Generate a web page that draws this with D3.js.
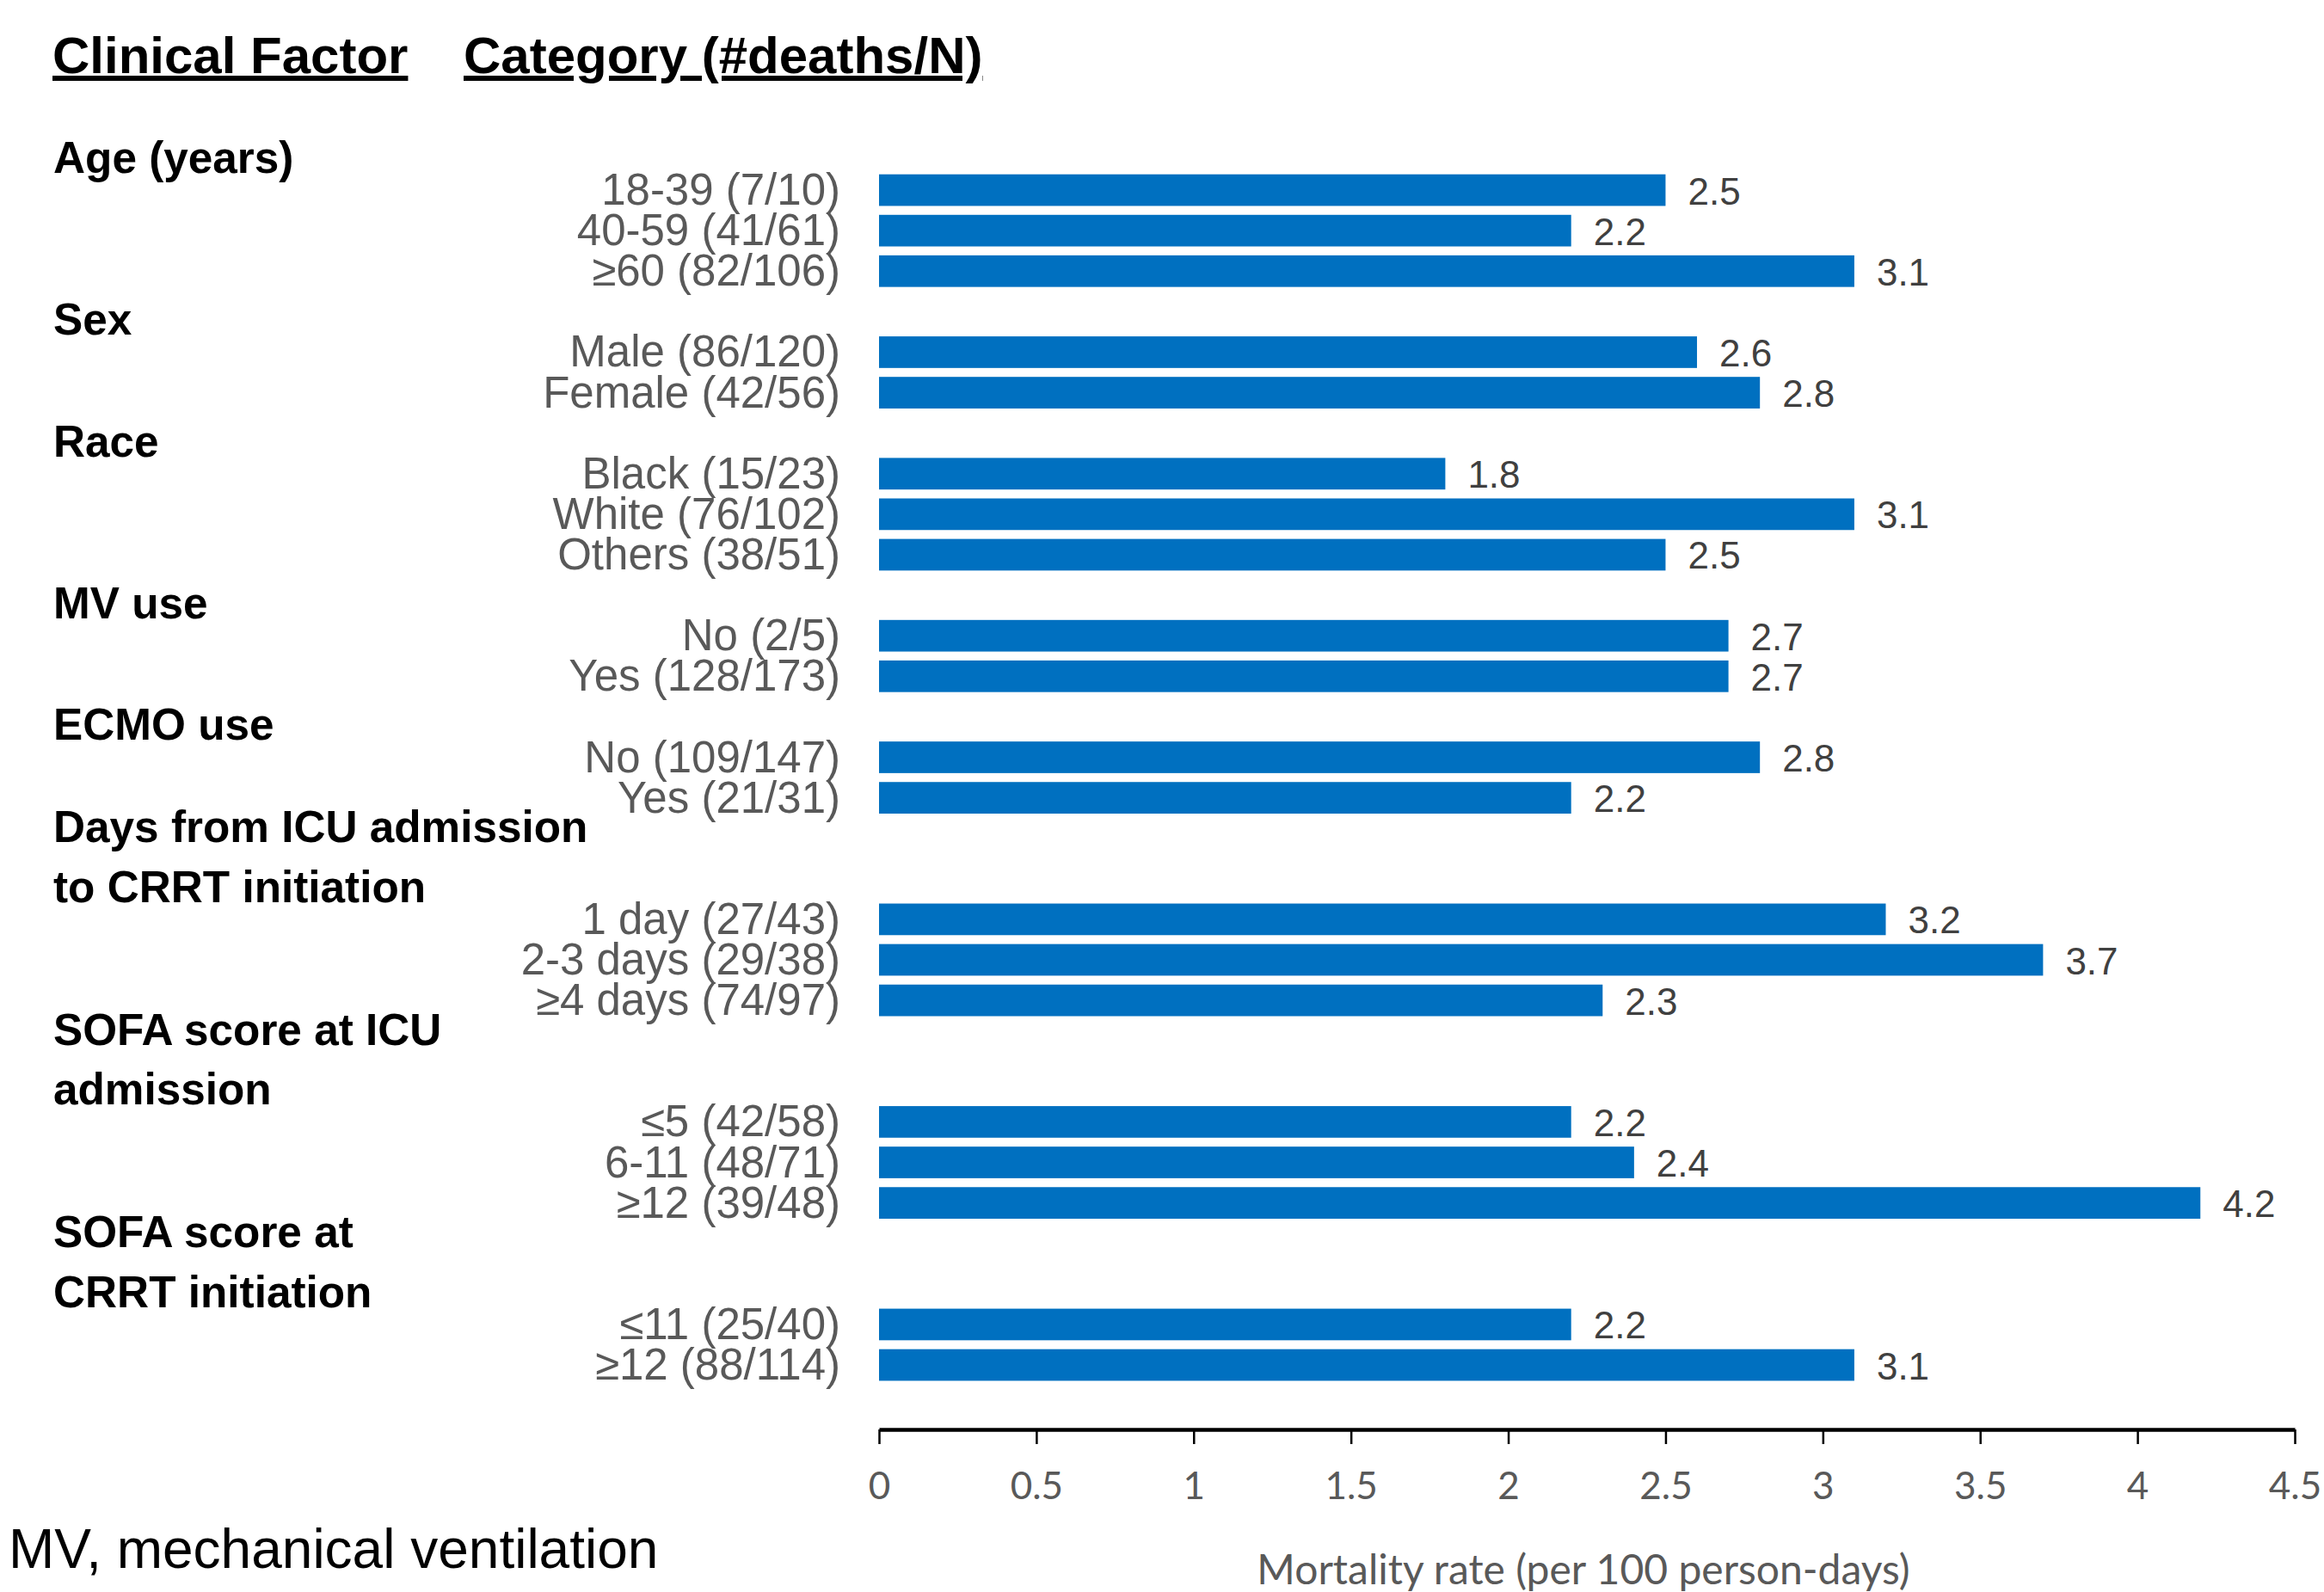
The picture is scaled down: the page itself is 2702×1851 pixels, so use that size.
<!DOCTYPE html>
<html>
<head>
<meta charset="utf-8">
<script src="https://cdn.jsdelivr.net/npm/d3@7"></script>
<style>
  html, body { margin: 0; padding: 0; background: #ffffff; }
  svg { display: block; }
</style>
</head>
<body>
<script>
// ---------- data ----------
const columnHeaders = ["Clinical Factor", "Category (#deaths/N)"];
const groupLabels = [
  ["Age (years)"],
  ["Sex"],
  ["Race"],
  ["MV use"],
  ["ECMO use"],
  ["Days from ICU admission", "to CRRT initiation"],
  ["SOFA score at ICU", "admission"],
  ["SOFA score at", "CRRT initiation"]
];
const categoryLabels = [
  ["18-39 (7/10)", "40-59 (41/61)", "≥60 (82/106)"],
  ["Male (86/120)", "Female (42/56)"],
  ["Black (15/23)", "White (76/102)", "Others (38/51)"],
  ["No (2/5)", "Yes (128/173)"],
  ["No (109/147)", "Yes (21/31)"],
  ["1 day (27/43)", "2-3 days (29/38)", "≥4 days (74/97)"],
  ["≤5 (42/58)", "6-11 (48/71)", "≥12 (39/48)"],
  ["≤11 (25/40)", "≥12 (88/114)"]
];
const rates = [
  [2.5, 2.2, 3.1],
  [2.6, 2.8],
  [1.8, 3.1, 2.5],
  [2.7, 2.7],
  [2.8, 2.2],
  [3.2, 3.7, 2.3],
  [2.2, 2.4, 4.2],
  [2.2, 3.1]
];
const xTicks = [0, 0.5, 1, 1.5, 2, 2.5, 3, 3.5, 4, 4.5];
const xTitle = "Mortality rate (per 100 person-days)";
const footnote = "MV, mechanical ventilation";

// ---------- layout ----------
const W = 2702, H = 1851;
const BAR_COLOR = "#0070C0";

// build slot list: header slots then category slots
const headers = [];
const bars = [];
let slot = 0;
groupLabels.forEach((lines, g) => {
  headers.push({ lines: lines, lastSlot: slot + lines.length - 1 });
  slot += lines.length;
  categoryLabels[g].forEach((lab, i) => {
    bars.push({ label: lab, value: rates[g][i], slot: slot });
    slot += 1;
  });
});
const nSlots = slot;

const svg = d3.select("body").append("svg")
  .attr("width", W).attr("height", H)
  .attr("viewBox", `0 0 ${W} ${H}`);
svg.append("rect").attr("width", W).attr("height", H).attr("fill", "#fff");

const x = d3.scaleLinear().domain([0, 4.5]).range([1022, 2668]);
const y = d3.scaleBand().domain(d3.range(nSlots))
  .range([150.4, 1610.6]).paddingInner(0.22).paddingOuter(0.11);
const yc = s => y(s) + y.bandwidth() / 2;

// column headers
const hdr = svg.append("g")
  .attr("font-family", "'Liberation Sans', Arial, sans-serif")
  .attr("font-weight", "bold").attr("font-size", 60).attr("fill", "#000");
hdr.append("text").attr("x", 61).attr("y", 85)
  .style("text-decoration", "underline").text(columnHeaders[0]);
hdr.append("text").attr("x", 539).attr("y", 85)
  .style("text-decoration", "underline").text(columnHeaders[1]);

// group headers
const gh = svg.append("g")
  .attr("font-family", "'Liberation Sans', Arial, sans-serif")
  .attr("font-weight", "bold").attr("font-size", 51.3).attr("fill", "#000");
headers.forEach(h => {
  const n = h.lines.length;
  h.lines.forEach((ln, i) => {
    gh.append("text")
      .attr("x", 62)
      .attr("y", yc(h.lastSlot) + 27 - (n - 1 - i) * 69.5)
      .text(ln);
  });
});

// bars
svg.append("g").selectAll("rect").data(bars).join("rect")
  .attr("x", x(0))
  .attr("y", d => y(d.slot))
  .attr("width", d => x(d.value) - x(0))
  .attr("height", y.bandwidth())
  .attr("fill", BAR_COLOR);

// category labels
svg.append("g")
  .attr("font-family", "'Liberation Sans', Arial, sans-serif")
  .attr("font-size", 51).attr("fill", "#595959").attr("text-anchor", "end")
  .selectAll("text").data(bars).join("text")
  .attr("x", 977)
  .attr("y", d => yc(d.slot) + 17)
  .text(d => d.label);

// value labels
svg.append("g")
  .attr("font-family", "'Liberation Sans', Arial, sans-serif")
  .attr("font-size", 44).attr("fill", "#404040")
  .selectAll("text").data(bars).join("text")
  .attr("x", d => x(d.value) + 26)
  .attr("y", d => yc(d.slot) + 16.5)
  .text(d => d3.format(".1f")(d.value));

// x axis
const axisY = 1662;
const ax = svg.append("g").attr("transform", `translate(0,${axisY})`)
  .call(d3.axisBottom(x).tickValues(xTicks).tickSizeInner(17).tickSizeOuter(0)
    .tickPadding(10).tickFormat(d => String(d)));
ax.select(".domain").attr("stroke", "#000").attr("stroke-width", 4.5);
ax.selectAll(".tick line").attr("stroke", "#000").attr("stroke-width", 2.5);
ax.selectAll(".tick text")
  .attr("font-family", "Lato, 'Open Sans', sans-serif")
  .attr("font-size", 44).attr("fill", "#595959")
  .attr("dy", null).attr("y", 1743 - axisY);

// axis title
svg.append("text")
  .attr("x", (x(0) + x(4.5)) / 2 - 4).attr("y", 1842)
  .attr("text-anchor", "middle")
  .attr("font-family", "Lato, 'Open Sans', sans-serif")
  .attr("font-size", 48).attr("fill", "#595959")
  .text(xTitle);

// footnote
svg.append("text")
  .attr("x", 10).attr("y", 1823)
  .attr("font-family", "'Liberation Sans', Arial, sans-serif")
  .attr("font-size", 64).attr("fill", "#000")
  .text(footnote);
</script>
</body>
</html>
